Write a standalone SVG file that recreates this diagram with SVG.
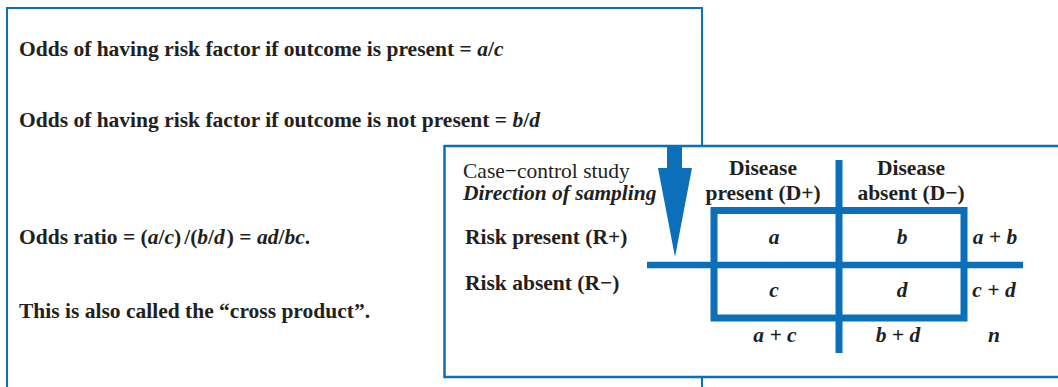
<svg xmlns="http://www.w3.org/2000/svg" width="1058" height="387" viewBox="0 0 1058 387">
  <style>
    .panel { fill: #ffffff; stroke: #0b6fba; }
    .t { font-family: "Liberation Serif", "Times New Roman", serif; font-size: 21.5px; fill: #231f20; }
    .b { font-weight: bold; }
    .i { font-style: italic; }
    .bi { font-weight: bold; font-style: italic; }
    .mid { text-anchor: middle; }
    .thick { stroke: #0b6fba; fill: none; }
  </style>
  <rect width="1058" height="387" fill="#ffffff"/>

  <g id="outer-panel">
    <rect class="panel" x="7" y="8" width="695" height="400" stroke-width="2"/>
    <text class="t b" x="19" y="56">Odds of having risk factor if outcome is present = <tspan class="i">a</tspan>/<tspan class="i">c</tspan></text>
    <text class="t b" x="19" y="127">Odds of having risk factor if outcome is not present = <tspan class="i">b</tspan>/<tspan class="i">d</tspan></text>
    <text class="t b" x="19" y="244">Odds ratio = (<tspan class="i">a</tspan>/<tspan class="i">c</tspan>)<tspan dx="3">/(</tspan><tspan class="i">b</tspan>/<tspan class="i">d</tspan><tspan dx="2">)</tspan> = <tspan class="i">ad</tspan>/<tspan class="i">bc</tspan>.</text>
    <text class="t b" x="19" y="318">This is also called the “cross product”.</text>
  </g>

  <g id="inner-panel">
    <rect class="panel" x="444.5" y="146" width="640" height="231" stroke-width="2.5"/>
    <text class="t" x="463" y="178">Case−control study</text>
    <text class="t bi" x="463" y="200">Direction of sampling</text>
    <text class="t b" x="465" y="244">Risk present (R+)</text>
    <text class="t b" x="465" y="290">Risk absent (R−)</text>
  </g>

  <g id="connectors">
    <polygon id="sampling-arrow" fill="#0b6fba" points="667,146 682,146 682,168 692,168 675,257 658,168 667,168"/>
  </g>

  <g id="table-grid">
    <rect class="thick" x="714" y="210.5" width="250" height="107.5" stroke-width="7"/>
    <line class="thick" x1="839" y1="160" x2="839" y2="353" stroke-width="7"/>
    <line class="thick" x1="647" y1="265" x2="1023" y2="265" stroke-width="6.5"/>
  </g>

  <g id="header-d-plus">
    <text class="t b mid" x="763" y="175">Disease</text>
    <text class="t b mid" x="763" y="200">present (D+)</text>
  </g>
  <g id="header-d-minus">
    <text class="t b mid" x="911" y="175">Disease</text>
    <text class="t b mid" x="911" y="200">absent (D−)</text>
  </g>

  <g id="cell-a"><text class="t bi mid" x="774" y="244">a</text></g>
  <g id="cell-b"><text class="t bi mid" x="902" y="244">b</text></g>
  <g id="cell-c"><text class="t bi mid" x="774" y="297">c</text></g>
  <g id="cell-d"><text class="t bi mid" x="902" y="297">d</text></g>
  <g id="total-ab"><text class="t bi mid" x="995" y="244">a + b</text></g>
  <g id="total-cd"><text class="t bi mid" x="994" y="297">c + d</text></g>
  <g id="total-ac"><text class="t bi mid" x="775" y="342">a + c</text></g>
  <g id="total-bd"><text class="t bi mid" x="898" y="342">b + d</text></g>
  <g id="total-n"><text class="t bi mid" x="994" y="342">n</text></g>
</svg>
